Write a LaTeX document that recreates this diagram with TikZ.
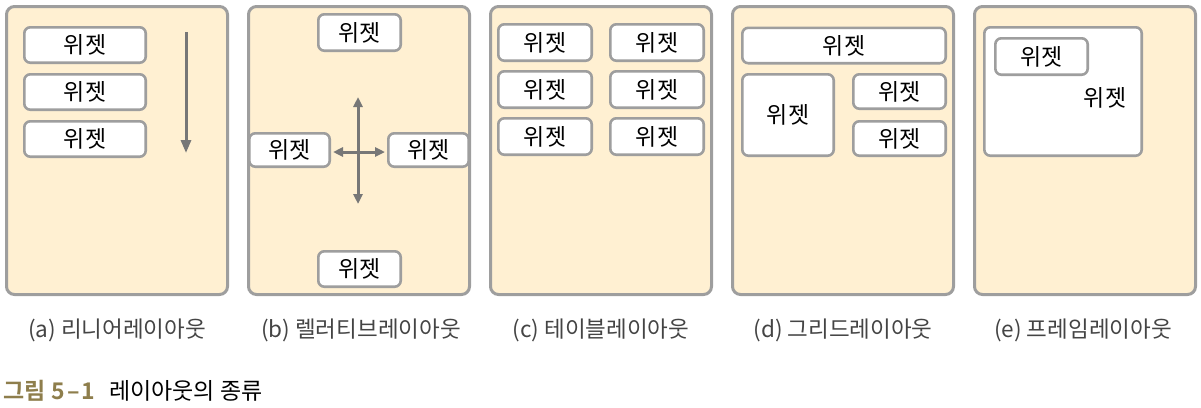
\documentclass[tikz,border=0pt]{standalone}
\usepackage{fontspec}
\setmainfont{Noto Sans CJK KR}
\newfontfamily\krbold{Noto Sans CJK KR}[BoldFont={* Bold}]
\usetikzlibrary{arrows.meta}
\definecolor{panelfill}{HTML}{FFF0D2}
\definecolor{edgegray}{HTML}{9E9E9E}
\definecolor{arrowgray}{HTML}{777777}
\definecolor{capgray}{HTML}{444444}
\definecolor{olive}{HTML}{8E7E4C}
\tikzset{
  panel/.style={draw=edgegray, fill=panelfill, line width=3pt, rounded corners=8pt,
    minimum width=221pt, minimum height=288pt, inner sep=0pt},
  widget/.style={draw=edgegray, fill=white, line width=2.6pt, rounded corners=6pt,
    inner sep=0pt, font=\fontsize{23}{25}\selectfont, text=black},
  flow/.style={draw=arrowgray, line width=3pt, -{Triangle[length=13pt,width=10pt]}},
  flow2/.style={draw=arrowgray, line width=3pt, {Triangle[length=10pt,width=9pt]}-{Triangle[length=10pt,width=9pt]}},
  capt/.style={font=\fontsize{22.5}{24}\selectfont, text=capgray, inner sep=0pt},
}
\begin{document}
\begin{tikzpicture}[x=1pt,y=-1pt]
\useasboundingbox (0,0) rectangle (1201,407);
% panels
\node[panel] (pa) at (117,150.5) {};
\node[panel] (pb) at (359,150.5) {};
\node[panel] (pc) at (601,150.5) {};
\node[panel] (pd) at (843,150.5) {};
\node[panel] (pe) at (1085,150.5) {};
% (a) linear
\node[widget, minimum width=121.4pt, minimum height=35.4pt] (a1) at (85,45) {위젯};
\node[widget, minimum width=121.4pt, minimum height=35.4pt] (a2) at (85,92) {위젯};
\node[widget, minimum width=121.4pt, minimum height=35.4pt] (a3) at (85,139) {위젯};
\coordinate (as) at (186,32);
\coordinate (ae) at (186,153);
\draw[flow] (as) -- (ae);
% (b) relative
\node[widget, minimum width=82.4pt, minimum height=36.4pt] (bT) at (359.5,32.5) {위젯};
\node[widget, minimum width=80.4pt, minimum height=33.4pt] (bL) at (289.5,150) {위젯};
\node[widget, minimum width=80.4pt, minimum height=33.4pt] (bR) at (428.5,150) {위젯};
\node[widget, minimum width=82.4pt, minimum height=35.4pt] (bB) at (359.5,269) {위젯};
\coordinate (bvt) at (358,97);
\coordinate (bvb) at (358,204);
\draw[flow2] (bvt) -- (bvb);
\draw[flow2] ([xshift=2pt,yshift=-2pt]bL.east) -- ([xshift=-2pt,yshift=-2pt]bR.west);
% (c) table
\node[widget, minimum width=93.4pt, minimum height=36.4pt] (c11) at (545,42.5) {위젯};
\node[widget, minimum width=93.4pt, minimum height=36.4pt] (c12) at (657,42.5) {위젯};
\node[widget, minimum width=93.4pt, minimum height=36.4pt] (c21) at (545,89.5) {위젯};
\node[widget, minimum width=93.4pt, minimum height=36.4pt] (c22) at (657,89.5) {위젯};
\node[widget, minimum width=93.4pt, minimum height=36.4pt] (c31) at (545,136.5) {위젯};
\node[widget, minimum width=93.4pt, minimum height=36.4pt] (c32) at (657,136.5) {위젯};
% (d) grid
\node[widget, minimum width=203.4pt, minimum height=35.4pt] (dT) at (844,45.5) {위젯};
\node[widget, minimum width=91.4pt, minimum height=81.4pt] (dL) at (788,115) {위젯};
\node[widget, minimum width=92.4pt, minimum height=34.4pt] (dR1) at (899.5,91.5) {위젯};
\node[widget, minimum width=92.4pt, minimum height=34.4pt] (dR2) at (899.5,138.5) {위젯};
% (e) frame
\node[widget, minimum width=157.4pt, minimum height=128.4pt] (eF) at (1063,91.5) {};
\node[widget, minimum width=92.4pt, minimum height=36.4pt] (eW) at (1041.5,56.5) {위젯};
\node[font=\fontsize{23}{25}\selectfont, inner sep=0pt] (eT) at (1105,98) {위젯};
% captions
\node[capt] (ca) at (117,330) {(a) 리니어레이아웃};
\node[capt] (cb) at (361,330) {(b) 렐러티브레이아웃};
\node[capt] (cc) at (601,330) {(c) 테이블레이아웃};
\node[capt] (cd) at (843,330) {(d) 그리드레이아웃};
\node[capt] (ce) at (1083,330) {(e) 프레임레이아웃};
\node[anchor=west, inner sep=0pt, font=\krbold\bfseries\fontsize{23}{25}\selectfont, text=olive] (fig) at (3,391) {그림\kern1pt{} 5\kern2pt–\kern2pt1};
\node[anchor=west, inner sep=0pt, font=\fontsize{23}{25}\selectfont, text=black] (figt) at (109,391) {레이아웃의 종류};
\end{tikzpicture}
\end{document}
